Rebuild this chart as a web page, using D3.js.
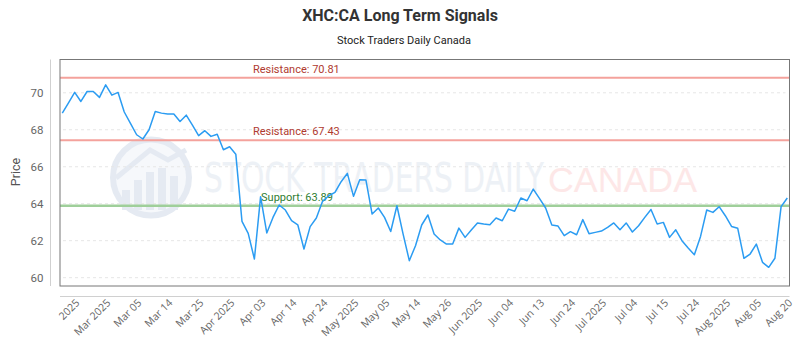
<!DOCTYPE html>
<html>
<head>
<meta charset="utf-8">
<script src="https://cdn.jsdelivr.net/npm/d3@7"></script>
<style>
  body { margin: 0; background: #fff; }
  svg { display: block; }
</style>
</head>
<body>
<svg id="chart" width="800" height="350"></svg>
<script>
// price series, one value per point
const prices = [
  68.90, 69.45, 70.02, 69.53, 70.07, 70.07, 69.75, 70.43, 69.87, 70.02,
  68.96, 68.35, 67.73, 67.50, 68.00, 68.99, 68.90, 68.85, 68.85, 68.45,
  68.79, 68.25, 67.68, 67.95, 67.64, 67.76, 66.92, 67.08, 66.68, 63.04,
  62.40, 61.01, 64.38, 62.42, 63.26, 63.93, 63.66, 63.08, 62.86, 61.55,
  62.76, 63.23, 64.13, 64.43, 64.61, 65.19, 65.64, 64.40, 65.30, 65.28,
  63.44, 63.77, 63.26, 62.50, 63.89, 62.36, 60.92, 61.73, 62.85, 63.39,
  62.36, 62.04, 61.82, 61.82, 62.68, 62.18, 62.58, 62.96, 62.90, 62.86,
  63.23, 63.08, 63.71, 63.59, 64.31, 64.16, 64.79, 64.29, 63.77, 62.85,
  62.79, 62.27, 62.49, 62.32, 63.14, 62.38, 62.45, 62.52, 62.72, 62.96,
  62.59, 62.96, 62.47, 62.81, 63.26, 63.69, 62.90, 62.99, 62.18, 62.59,
  62.00, 61.60, 61.24, 62.23, 63.66, 63.53, 63.84, 63.35, 62.77, 62.67,
  61.05, 61.28, 61.82, 60.83, 60.56, 61.05, 63.84, 64.31
];

// x labels shown on the axis (every 5th point, starting at point 2)
const tickLabels = [
  "2025", "Mar 2025", "Mar 05", "Mar 14", "Mar 25", "Apr 2025", "Apr 03",
  "Apr 14", "Apr 24", "May 2025", "May 05", "May 14", "May 26", "Jun 2025",
  "Jun 04", "Jun 13", "Jun 24", "Jul 2025", "Jul 04", "Jul 15", "Jul 24",
  "Aug 2025", "Aug 05", "Aug 20"
];
const tickStart = 2;
const tickEvery = 5;

const yTicks = [60, 62, 64, 66, 68, 70];

// signal levels
const levels = [
  { label: "Resistance: 70.81", value: 70.81, kind: "res" },
  { label: "Resistance: 67.43", value: 67.43, kind: "res" },
  { label: "Support: 63.89", value: 63.89, kind: "sup" }
];

const svg = d3.select("#chart");
const plot = { left: 60, right: 789.5, top: 59.5, bottom: 286 };

const x = d3.scalePoint()
    .domain(d3.range(prices.length))
    .range([62.3, 787.3]);

const y = d3.scaleLinear()
    .domain([59.55, 71.8])
    .range([plot.bottom, plot.top]);

// titles
svg.append("text")
    .attr("x", 400).attr("y", 21)
    .attr("text-anchor", "middle")
    .style("font", "bold 16px Roboto")
    .attr("fill", "#333")
    .text("XHC:CA Long Term Signals");

svg.append("text")
    .attr("x", 404).attr("y", 44)
    .attr("text-anchor", "middle")
    .style("font", "11px Roboto")
    .attr("fill", "#222")
    .text("Stock Traders Daily Canada");

// watermark
const wm = svg.append("g").attr("opacity", 0.8);
wm.append("circle")
    .attr("cx", 151).attr("cy", 177.5).attr("r", 38)
    .attr("fill", "#f4f7fb")
    .attr("stroke", "#dfe6f0")
    .attr("stroke-width", 6);
[[122, 190, 8, 20], [134, 180, 8, 30], [146, 172, 8, 38], [158, 168, 8, 42], [170, 176, 8, 34]].forEach(b => {
  wm.append("rect")
      .attr("x", b[0]).attr("y", b[1]).attr("width", b[2]).attr("height", b[3])
      .attr("fill", "#dfe6f0");
});
wm.append("path")
    .attr("d", "M116,178 L150,150 L168,160 L186,150")
    .attr("fill", "none")
    .attr("stroke", "#dfe6f0")
    .attr("stroke-width", 5);
wm.append("text")
    .attr("x", 204).attr("y", 192)
    .attr("textLength", 340)
    .attr("lengthAdjust", "spacingAndGlyphs")
    .style("font", "40px 'DejaVu Sans Condensed'")
    .attr("fill", "#e9eef4")
    .text("STOCK TRADERS DAILY");
wm.append("text")
    .attr("x", 548).attr("y", 192)
    .attr("textLength", 149)
    .attr("lengthAdjust", "spacingAndGlyphs")
    .style("font", "35px 'Liberation Sans'")
    .attr("fill", "#fde2e2")
    .text("CANADA");

// grid
svg.append("g")
    .selectAll("line")
    .data(yTicks)
    .join("line")
    .attr("x1", plot.left + 3).attr("x2", plot.right - 4)
    .attr("y1", d => y(d)).attr("y2", d => y(d))
    .attr("stroke", "#e6e6e6")
    .attr("stroke-dasharray", "3,3");

// axis lines (offset from the frame)
svg.append("line")
    .attr("x1", 50.5).attr("x2", 50.5)
    .attr("y1", plot.top).attr("y2", plot.bottom)
    .attr("stroke", "#d0d0d0");
svg.append("line")
    .attr("x1", plot.left).attr("x2", plot.right)
    .attr("y1", 296.5).attr("y2", 296.5)
    .attr("stroke", "#d0d0d0");

// y axis labels
const yAxis = d3.axisLeft(y).tickValues(yTicks).tickSize(0).tickPadding(0);
svg.append("g")
    .attr("transform", "translate(43.5,0)")
    .call(yAxis)
    .call(g => g.select(".domain").remove())
    .call(g => g.selectAll("text")
        .attr("fill", "#666")
        .style("font", "11.5px Roboto"));

svg.append("text")
    .attr("transform", "translate(20,172) rotate(-90)")
    .attr("text-anchor", "middle")
    .style("font", "12.5px Roboto")
    .attr("fill", "#555")
    .text("Price");

// x axis labels
const tickIdx = tickLabels.map((d, i) => tickStart + i * tickEvery);
const xAxis = d3.axisBottom(x)
    .tickValues(tickIdx)
    .tickFormat((d, i) => tickLabels[i])
    .tickSize(0)
    .tickPadding(0);
svg.append("g")
    .attr("transform", "translate(0,301)")
    .call(xAxis)
    .call(g => g.select(".domain").remove())
    .call(g => g.selectAll("text")
        .attr("fill", "#666")
        .style("font", "10.5px 'Open Sans'")
        .attr("text-anchor", "end")
        .attr("dy", "0.35em")
        .attr("transform", "translate(2.5,0) rotate(-45)"));

// level lines
const lv = svg.append("g");
lv.selectAll("line")
    .data(levels)
    .join("line")
    .attr("x1", plot.left).attr("x2", plot.right)
    .attr("y1", d => y(d.value)).attr("y2", d => y(d.value))
    .attr("stroke", d => d.kind === "res" ? "#f4a29c" : "#9fcf9a")
    .attr("stroke-width", d => d.kind === "res" ? 2 : 2.5);

lv.selectAll("text")
    .data(levels)
    .join("text")
    .attr("x", d => d.kind === "res" ? x(31) - 1.5 : x(32) + 0.5)
    .attr("y", d => y(d.value) - 5)
    .style("font", "11px Roboto")
    .attr("fill", d => d.kind === "res" ? "#b03a30" : "#2f7d32")
    .text(d => d.label);

// price line
const line = d3.line()
    .x((d, i) => x(i))
    .y(d => y(d));

svg.append("path")
    .datum(prices)
    .attr("d", line)
    .attr("fill", "none")
    .attr("stroke", "#2b9cf2")
    .attr("stroke-width", 1.5)
    .attr("stroke-linejoin", "round");

// frame
svg.append("rect")
    .attr("x", plot.left).attr("y", plot.top)
    .attr("width", plot.right - plot.left)
    .attr("height", plot.bottom - plot.top)
    .attr("fill", "none")
    .attr("stroke", "#777");
</script>
</body>
</html>
